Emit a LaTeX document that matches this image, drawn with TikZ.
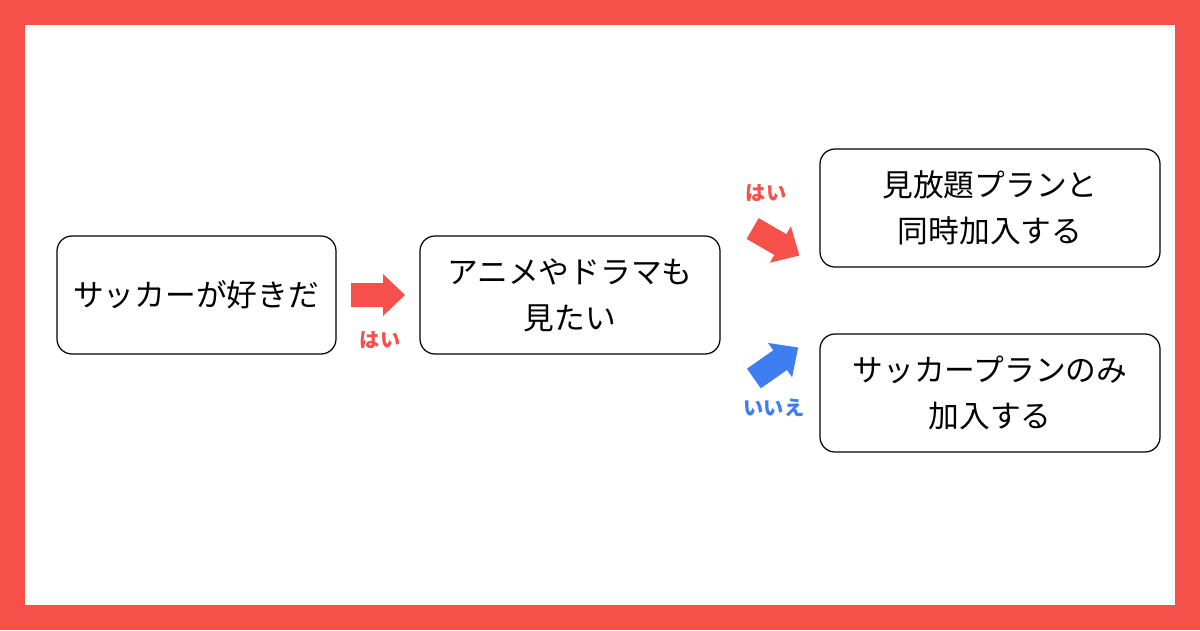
\documentclass[tikz,border=0pt]{standalone}
\usepackage{fontspec}
\setmainfont{Noto Sans CJK JP}
\definecolor{frame}{HTML}{F5504A}
\definecolor{yes}{HTML}{F5504A}
\definecolor{no}{HTML}{3F7EF0}
\newcommand{\blockarrow}[4]{%
  \fill[#1,shift={(#2,#3)},rotate=#4]
    (-27,-12) -- (5,-12) -- (5,-21) -- (27,0) -- (5,21) -- (5,12)
    -- (-27,12) -- cycle;
}
\tikzset{
  box/.style={draw,rounded corners=0.3cm,line width=0.7pt},
  txt/.style={align=center,font=\fontsize{17.5}{26}\selectfont},
  lbl/.style={text=#1,font=\fontsize{11.5}{13}\selectfont\bfseries}
}
\begin{document}
\begin{tikzpicture}[x=0.02cm,y=-0.02cm]
  \fill[frame] (0,0) rectangle (1200,630);
  \fill[white] (25,25) rectangle (1175,605);
  % boxes
  \draw[box] (57,236) rectangle (336,354);
  \node[txt] (like) at (196,295) {サッカーが好きだ};
  \draw[box] (420,236) rectangle (720,354);
  \node[txt] (anime) at (570,295) {アニメやドラマも\\見たい};
  \draw[box] (820,149) rectangle (1160,267);
  \node[txt] (both) at (990,208) {見放題プランと\\同時加入する};
  \draw[box] (820,334) rectangle (1160,452);
  \node[txt] (only) at (990,393) {サッカープランのみ\\加入する};
  % arrows
  \blockarrow{yes}{378}{295}{0}
  \node[lbl=yes] (yes1) at (380,340) {はい};
  \blockarrow{yes}{776}{242}{-30}
  \node[lbl=yes] (yes2) at (766,193) {はい};
  \blockarrow{no}{776}{363}{35}
  \node[lbl=no] (no1) at (774,408) {いいえ};
\end{tikzpicture}
\end{document}
